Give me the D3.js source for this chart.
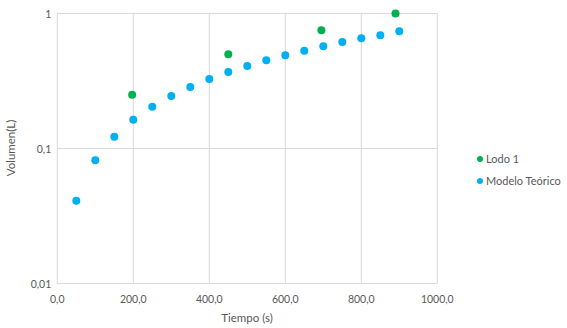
<!DOCTYPE html>
<html>
<head>
<meta charset="utf-8">
<script src="https://cdn.jsdelivr.net/npm/d3@7"></script>
<style>
  body { margin: 0; background: #fff; }
  text { font-family: Lato, "Open Sans", sans-serif; fill: #595959; }
</style>
</head>
<body>
<svg id="chart" width="567" height="328"></svg>
<script>
var xTicks = [0, 200, 400, 600, 800, 1000];
var yTicks = [0.01, 0.1, 1];

var lodoX = [197, 450, 695, 890];
var lodoY = [0.25, 0.50, 0.75, 1.0];

var modeloX = [50, 100, 150, 200, 250, 300, 350, 400, 450, 500, 550, 600, 650, 700, 750, 800, 850, 900];
var modeloY = [0.041, 0.082, 0.122, 0.163, 0.204, 0.245, 0.286, 0.327, 0.369, 0.409, 0.45, 0.49, 0.53, 0.571, 0.615, 0.655, 0.69, 0.738];

var series = [
  { name: "Lodo 1", color: "#00B050", xs: lodoX, ys: lodoY },
  { name: "Modelo Teórico", color: "#00B0F0", xs: modeloX, ys: modeloY }
];

var margin = { top: 13.5, left: 57.3 },
  width = 380,
  height = 270;

var svg = d3.select("#chart");
var g = svg.append("g")
  .attr("transform", "translate(" + margin.left + "," + margin.top + ")");

var x = d3.scaleLinear().domain([0, 1000]).range([0, width]);
var y = d3.scaleLog().domain([0.01, 1]).range([height, 0]);

function fmt(v) {
  return d3.format(".1f")(v).replace(".", ",");
}

// gridlines
g.selectAll(".vgrid")
  .data(xTicks)
  .enter().append("line")
  .attr("x1", function (d) { return x(d); })
  .attr("x2", function (d) { return x(d); })
  .attr("y1", 0)
  .attr("y2", height)
  .attr("stroke", "#d9d9d9")
  .attr("stroke-width", 1);

g.selectAll(".hgrid")
  .data(yTicks)
  .enter().append("line")
  .attr("x1", 0)
  .attr("x2", width)
  .attr("y1", function (d) { return y(d); })
  .attr("y2", function (d) { return y(d); })
  .attr("stroke", "#d9d9d9")
  .attr("stroke-width", 1);

// tick labels
g.selectAll(".xlab")
  .data(xTicks)
  .enter().append("text")
  .attr("x", function (d) { return x(d); })
  .attr("y", height + 19)
  .attr("text-anchor", "middle")
  .style("font-size", "10.5px")
  .text(function (d) { return fmt(d); });

g.selectAll(".ylab")
  .data(yTicks)
  .enter().append("text")
  .attr("x", -6)
  .attr("y", function (d) { return y(d) + 4; })
  .attr("text-anchor", "end")
  .style("font-size", "10.5px")
  .text(function (d) { return String(d).replace(".", ","); });

// axis titles
svg.append("text")
  .attr("x", 247)
  .attr("y", 322)
  .attr("text-anchor", "middle")
  .style("font-size", "11.5px")
  .text("Tiempo (s)");

svg.append("text")
  .attr("transform", "translate(15,148) rotate(-90)")
  .attr("text-anchor", "middle")
  .style("font-size", "11.5px")
  .text("Volumen(L)");

// points
series.forEach(function (s) {
  g.selectAll(null)
    .data(s.xs)
    .enter().append("circle")
    .attr("cx", function (d) { return x(d); })
    .attr("cy", function (d, i) { return y(s.ys[i]); })
    .attr("r", 4)
    .attr("fill", s.color);
});

// legend
var legend = svg.append("g").attr("transform", "translate(480,159)");
series.forEach(function (s, i) {
  legend.append("circle")
    .attr("cx", 0)
    .attr("cy", i * 22)
    .attr("r", 3)
    .attr("fill", s.color);
  legend.append("text")
    .attr("x", 6)
    .attr("y", i * 22 + 4)
    .style("font-size", "11px")
    .text(s.name);
});
</script>
</body>
</html>
